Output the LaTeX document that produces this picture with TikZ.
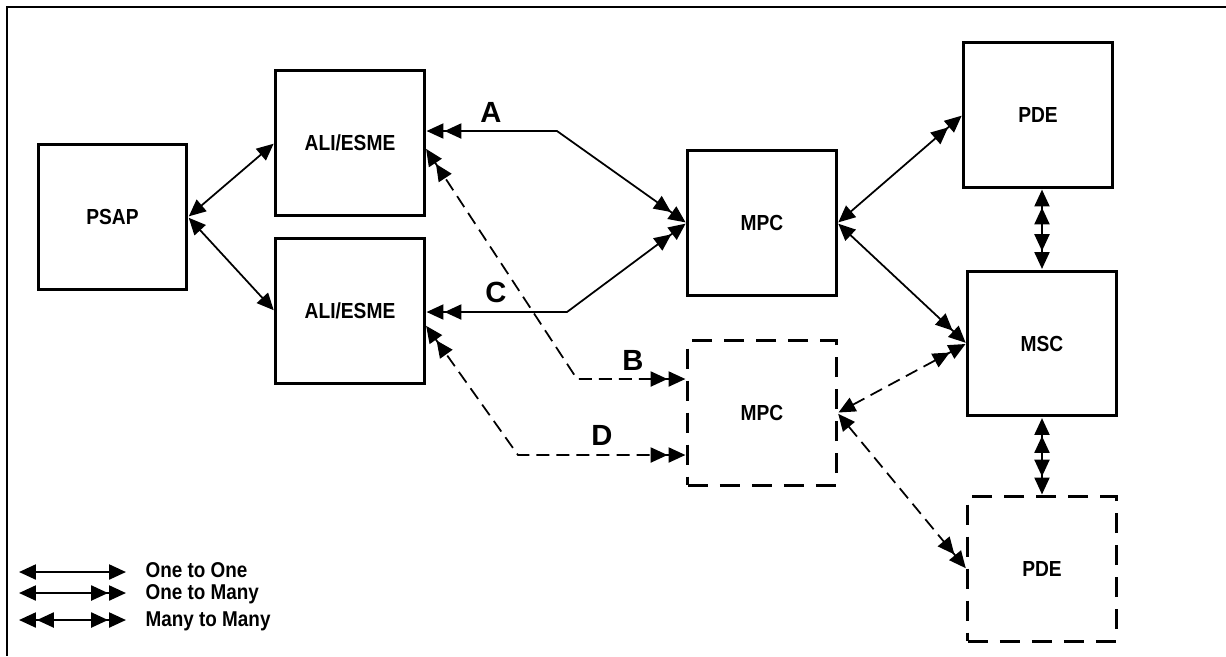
\documentclass[tikz,border=0pt]{standalone}
\usepackage{fontspec}
\setmainfont{Liberation Sans}[FakeStretch=0.88]
\newfontfamily\letterfont{Liberation Sans}
\usepackage{tikz}
\usetikzlibrary{arrows.meta}
\usetikzlibrary{calc}
\tikzset{unit/.style={draw, line width=0.85pt, minimum width=1.48cm, minimum height=1.44cm,
    inner sep=0pt, font=\fontsize{6.2}{7}\selectfont\bfseries},
  unitd/.style={unit, dash pattern=on 5.7pt off 3.4pt},
  link/.style={line width=0.5pt},
  linkd/.style={link, dash pattern=on 3.7pt off 2pt},
  tag/.style={font=\letterfont\fontsize{8.3}{9}\selectfont\bfseries},
  key/.style={anchor=base west, inner sep=0pt, font=\fontsize{6.1}{7}\selectfont\bfseries}
}

\begin{document}
\begin{tikzpicture}[x=0.01cm, y=-0.01cm, >={Triangle[length=4.8pt,width=4.3pt,sep=0.3pt]}]
                \useasboundingbox (0,0) rectangle (1226,656);
                \draw[line width=0.6pt] (1226,7) -- (7,7) -- (7,656);

                % Boxes
                \node[unit] (psap) at (112.5,217) {PSAP};
                \node[unit] (alitop) at (350,143) {ALI/ESME};
                \node[unit] (alibot) at (350,311) {ALI/ESME};
                \node[unit] (mpc) at (762,223) {MPC};
                \node[unitd] (mpcd) at (762,413) {MPC};
                \node[unit] (pde) at (1038,115) {PDE};
                \node[unit] (msc) at (1042,343.5) {MSC};
                \node[unitd] (pded) at (1042,569) {PDE};

                % Bends
                \coordinate (kA) at (557,131);
                \coordinate (kC) at (567,312);
                \coordinate (kB) at (577,379);
                \coordinate (kD) at (518,455);

                % Links
                \draw[link,<->] (psap.east) -- (alitop.west);
                \draw[link,<->] (psap.east) -- (alibot.west);

                \draw[link,<<->>] (alitop.east |- kA) -- (kA) -- (mpc.west);
                \draw[link,<<->>] (alibot.east |- kC) -- (kC) -- (mpc.west);
                \draw[linkd,<<->>] ($(alitop.east)+(0,5)$) -- (kB) -- (mpcd.west |- kB);
                \draw[linkd,<<->>] ($(alibot.east)+(0,14)$) -- (kD) -- (mpcd.west |- kD);

                \draw[link,<->>] (mpc.east) -- (pde.west);
                \draw[link,<->>] (mpc.east) -- (msc.west);
                \draw[linkd,<->>] (mpcd.east) -- (msc.west);
                \draw[linkd,<->>] (mpcd.east) -- (pded.west);

                \draw[link,<<->>] (msc.north |- pde.south) -- (msc.north);
                \draw[link,<<->>] (msc.south) -- (pded.north);

                % Labels
                \node[tag] (la) at (491,112) {A};
                \node[tag] (lc) at (496,292) {C};
                \node[tag] (lb) at (633,360) {B};
                \node[tag] (ld) at (602,435) {D};

                % Legend
                \coordinate (s1) at (18,572);
                \coordinate (e1) at (127,572);
                \coordinate (s2) at (18,593);
                \coordinate (e2) at (127,593);
                \coordinate (s3) at (18,620);
                \coordinate (e3) at (127,620);
                \draw[link,<->] (s1) -- (e1);
                \draw[link,<->>] (s2) -- (e2);
                \draw[link,<<->>] (s3) -- (e3);
                \node[key] (k1) at (145,577) {One to One};
                \node[key] (k2) at (145,599) {One to Many};
                \node[key] (k3) at (145,626) {Many to Many};
            \end{tikzpicture}
\end{document}
